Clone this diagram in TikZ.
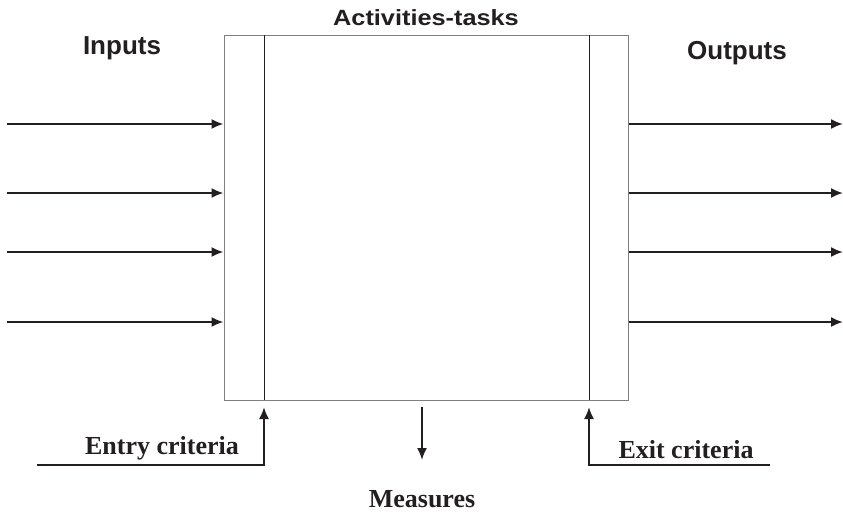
\documentclass[tikz,border=0pt]{standalone}
\usepackage{fontspec}
\setmainfont{Liberation Serif}
\setsansfont{Liberation Sans}
\newfontfamily\titlefont[FakeStretch=1.15]{Liberation Sans}
\usetikzlibrary{arrows.meta}

\definecolor{ink}{HTML}{231F20}
\definecolor{rim}{HTML}{7F7F7F}

\tikzset{
    flow/.style={draw=ink, line width=1.9pt, -{Latex[length=12pt,width=10pt]}},
    bar/.style={draw=ink, line width=1pt},
    headlabel/.style={text=ink, anchor=base, font=\sffamily\bfseries\fontsize{26}{30}\selectfont},
    footlabel/.style={text=ink, anchor=base, font=\rmfamily\bfseries\fontsize{26}{30}\selectfont}
}

\begin{document}
\begin{tikzpicture}[x=1pt,y=-1pt]

\useasboundingbox (0,0) rectangle (843,512);

% the activity block with its two side bars
\node [draw=rim, line width=1pt, minimum width=404pt, minimum height=365pt, inner sep=0pt] (box) at (426,217.5) {};
\coordinate (entrybar) at (264,400);
\coordinate (exitbar) at (589,400);
\draw [bar] (264,35) -- (entrybar);
\draw [bar] (589,35) -- (exitbar);

% titles
\node [text=ink, anchor=base, font=\titlefont\bfseries\fontsize{22}{26}\selectfont] (acttitle) at (426,25) {Activities-tasks};
\node [headlabel] (inlabel) at (122,54) {Inputs};
\node [headlabel] (outlabel) at (737,59) {Outputs};

% inputs and outputs
\foreach \y [count=\i] in {124,193,252,322} {
    \coordinate (in\i) at (7,\y);
    \coordinate (out\i) at (843,\y);
    \draw [flow] (in\i) -- (in\i -| box.west);
    \draw [flow] (out\i -| box.east) -- (out\i);
}

% entry and exit criteria
\coordinate (entry) at (37,465);
\coordinate (exit) at (770,465);
\draw [flow] (entry) -- (entry -| entrybar) -- ([yshift=-7pt]entrybar);
\draw [flow] (exit) -- (exit -| exitbar) -- ([yshift=-7pt]exitbar);
\node [footlabel] (entrylabel) at (162,454) {Entry criteria};
\node [footlabel] (exitlabel) at (686,458) {Exit criteria};

% measures
\coordinate (meas) at (422,460);
\draw [flow] (box.south -| meas) ++(0,6) -- (meas);
\node [footlabel] (measlabel) at (422,507) {Measures};

\end{tikzpicture}
\end{document}
